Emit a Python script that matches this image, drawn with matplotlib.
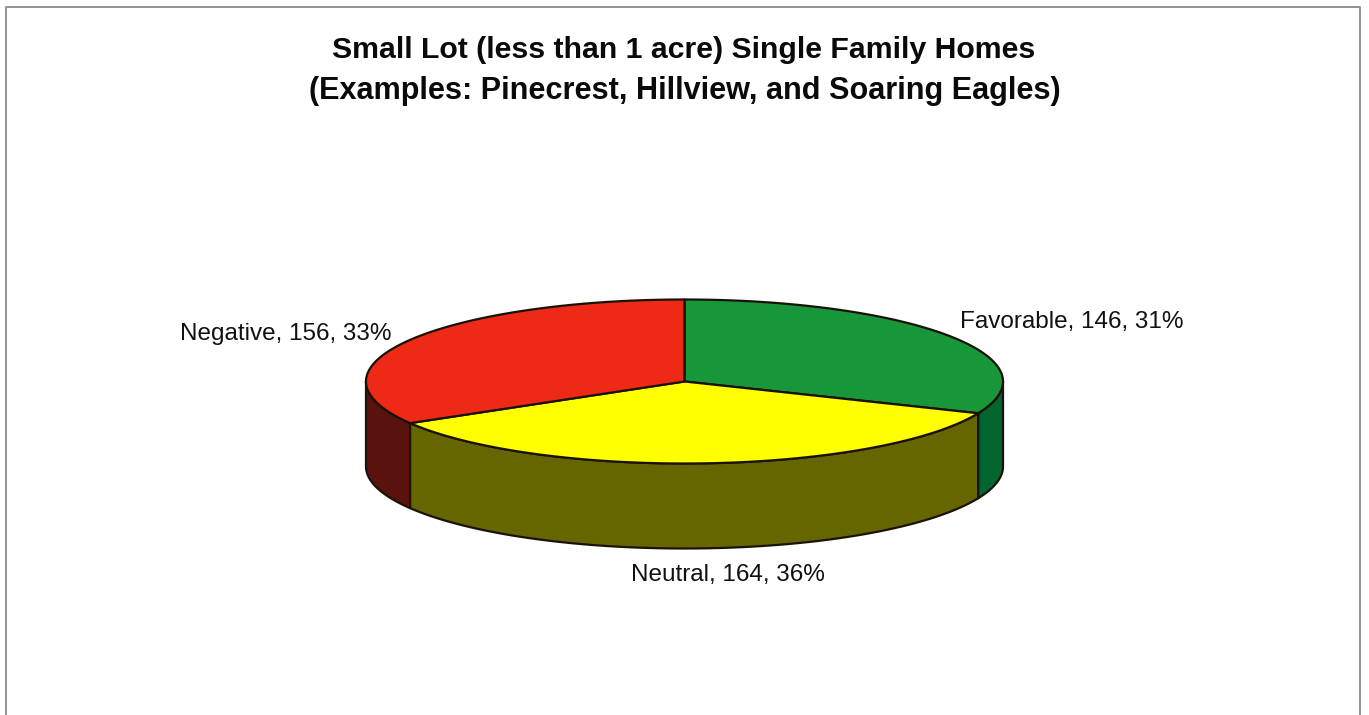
import numpy as np
import matplotlib
matplotlib.use("Agg")
import matplotlib.pyplot as plt

plt.rcParams['font.family'] = ['Liberation Sans', 'DejaVu Sans']

# Data
title_lines = ["Small Lot (less than 1 acre) Single Family Homes",
               "(Examples: Pinecrest, Hillview, and Soaring Eagles)"]
categories = ["Favorable", "Neutral", "Negative"]
counts = [146, 164, 156]
percents = [31, 36, 33]

# Styles
top_colors = ["#17963a", "#ffff00", "#ee2a16"]
side_colors = ["#03662f", "#666600", "#5a120e"]
edge = "#1a1208"
label_pos = [(1071.5, 322), (727.5, 575), (286, 334)]

CX, CY, RX, RY, DEPTH = 684.5, 381.5, 318.5, 82, 85

fig = plt.figure(figsize=(13.69, 7.15), dpi=100)
ax = fig.add_axes([0, 0, 1, 1])
ax.set_xlim(0, 1369)
ax.set_ylim(715, 0)
ax.axis("off")


def pt(theta):
    """theta: clockwise from 12 o'clock, radians."""
    return CX + RX * np.sin(theta), CY - RY * np.cos(theta)


fractions = np.array(counts, dtype=float) / sum(counts)
edges = np.concatenate([[0], np.cumsum(fractions)]) * 2 * np.pi

# Walls: only the front half (theta between pi/2 and 3pi/2) is visible
for i in [2, 0, 1]:
    lo, hi = max(edges[i], np.pi / 2), min(edges[i + 1], 3 * np.pi / 2)
    if hi <= lo:
        continue
    t = np.linspace(lo, hi, 200)
    x, y = pt(t)
    xs = np.concatenate([x, x[::-1]])
    ys = np.concatenate([y, y[::-1] + DEPTH])
    ax.fill(xs, ys, facecolor=side_colors[i], edgecolor=edge, linewidth=1.6,
            joinstyle="round", zorder=2)

# Top slices
for i in range(3):
    t = np.linspace(edges[i], edges[i + 1], 300)
    x, y = pt(t)
    ax.fill(np.concatenate([[CX], x]), np.concatenate([[CY], y]),
            facecolor=top_colors[i], edgecolor=edge, linewidth=1.6,
            joinstyle="round", zorder=3)

# Labels
for name, c, p, (lx, ly) in zip(categories, counts, percents, label_pos):
    ax.text(lx, ly, f"{name}, {c}, {p}%", ha="center", va="center",
            fontsize=17.5, color="#111111", zorder=5)

# Title
ax.text(684, 50, title_lines[0], ha="center", va="center", fontsize=21.8,
        fontweight="bold", color="#0a0a0a")
ax.text(684.5, 91, title_lines[1], ha="center", va="center", fontsize=22.1,
        fontweight="bold", color="#0a0a0a")

# Scanned chart frame (no bottom edge is visible)
frame = "#8a8a8a"
ax.plot([6, 6, 1360, 1360], [715, 7, 7, 715], color=frame, linewidth=1.3, zorder=1)

fig.savefig("out.png", dpi=100, facecolor="white")
